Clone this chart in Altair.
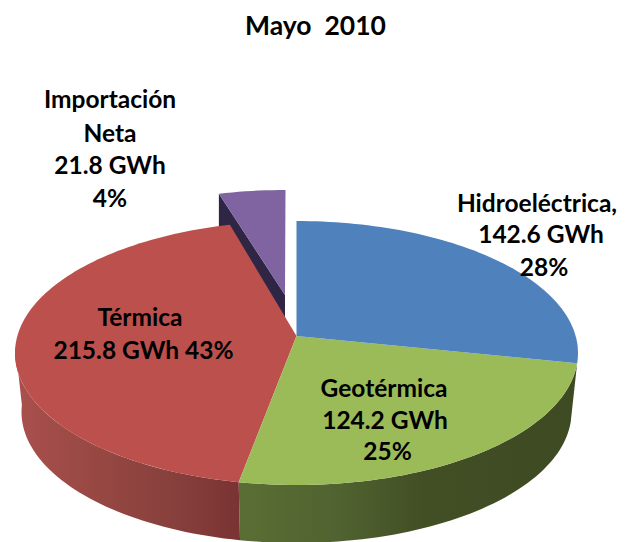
import math
import altair as alt
import pandas as pd

categories = ["Hidroeléctrica", "Geotérmica", "Térmica", "Importación Neta"]
gwh = [142.6, 124.2, 215.8, 21.8]
top_colors = ["#4F81BD", "#9BBB59", "#BC504D", "#8064A2"]

title_text = ["Mayo\u00a0\u00a02010"]
label_lines = ["Importación", "Neta", "21.8 GWh", "4%",
               "Hidroeléctrica,", "142.6 GWh", "28%",
               "Térmica", "215.8 GWh 43%",
               "Geotérmica", "124.2 GWh", "25%"]
label_x = [110, 110, 110, 110, 537, 541, 544, 140, 143.5, 384, 385, 387.5]
label_y = [108, 142, 174, 207, 212, 243, 276, 326, 359, 397, 429, 460]

# pie geometry in picture units (the x and y scales turn them into pixels)
CX, CY, RX, RY = 296.5, 353.0, 281.5, 132.0
APEX_Y = 336.0
BX, BY, BRX, BRY = 296.5, 412.0, 275.0, 131.0
P = (APEX_Y - CY) / RY
EXPLODE = (-11.0, -31.0)
PURPLE_APEX = (285.0, 295.0)
STEP = 1.5


def rim(phi_deg):
    """Share angle (clockwise from the top) to unit ellipse coordinates under the 3-D tilt."""
    a = math.radians(phi_deg)
    u, v = math.sin(a), -math.cos(a)
    d = 1 + P * v
    return u * math.sqrt(1 - P * P) / d, (v + P) / d


def arc_angles(a0, a1):
    n = max(2, int(abs(a1 - a0) / STEP))
    return [a0 + (a1 - a0) * i / n for i in range(n + 1)]


def frame(points):
    return pd.DataFrame({"x": [p[0] for p in points], "y": [p[1] for p in points],
                         "i": list(range(len(points)))})


X = alt.X("x:Q", axis=None, scale=alt.Scale(domain=[8, 618], nice=False, zero=False))
Y = alt.Y("y:Q", axis=None, scale=alt.Scale(domain=[542, 8], nice=False, zero=False))


def poly(points, fill):
    return alt.Chart(frame(points)).mark_line(
        interpolate="linear-closed", fill=fill, stroke=None, strokeWidth=0, clip=False
    ).encode(x=X, y=Y, order=alt.Order("i:Q"))


def grad(stops):
    return alt.Gradient(gradient="linear", x1=0, x2=1, y1=0, y2=0,
                        stops=[alt.GradientStop(offset=o, color=c) for o, c in stops])


total = sum(gwh)
cum = [0.0]
for v in gwh:
    cum.append(cum[-1] + v / total * 360)


def top_pts(a0, a1, dx=0.0, dy=0.0):
    pts = []
    for a in arc_angles(a0, a1):
        u, v = rim(a)
        pts.append((CX + RX * u + dx, CY + RY * v + dy))
    return pts


def wall_pts(a0, a1):
    top = []
    bot = []
    for a in arc_angles(a0, a1):
        u, v = rim(a)
        top.append((CX + RX * u, CY + RY * v))
        bot.append((BX + BRX * u, BY + BRY * v))
    return top + bot[::-1]


layers = []
left_extreme = 270 - math.degrees(math.asin(-P))
layers.append(poly(wall_pts(cum[1], cum[2]),
                   grad([(0, "#5A6E34"), (0.3, "#506230"), (0.55, "#424E24"), (1, "#3E4A22")])))
layers.append(poly(wall_pts(cum[2], left_extreme + 3),
                   grad([(0, "#A9504D"), (0.35, "#984843"), (0.7, "#87403C"), (1, "#7A3333")])))

# exploded slice
pa0, pa1 = cum[3], cum[4]
p_top = top_pts(pa0, pa1, *EXPLODE)
p_first = p_top[0]
layers.append(poly([p_first, PURPLE_APEX, (PURPLE_APEX[0], PURPLE_APEX[1] + 24), (p_first[0], p_first[1] + 34)], "#2F2545"))
layers.append(poly(p_top + [PURPLE_APEX], top_colors[3]))

# top faces
apex = (CX, APEX_Y)
for k in [2, 1, 0]:
    layers.append(poly(top_pts(cum[k], cum[k + 1]) + [apex], top_colors[k]))

labels = pd.DataFrame({"t": label_lines, "x": label_x, "y": label_y})
layers.append(alt.Chart(labels).mark_text(font="Lato", fontWeight="bold", fontSize=24.5, color="#000000",
                                          align="center", baseline="alphabetic").encode(x=X, y=Y, text="t:N"))
title_df = pd.DataFrame({"t": title_text, "x": [315.5], "y": [35]})
layers.append(alt.Chart(title_df).mark_text(font="Lato", fontWeight="bold", fontSize=26.5, color="#000000",
                                            align="center", baseline="alphabetic").encode(x=X, y=Y, text="t:N"))

chart = alt.layer(*layers).properties(
    width=610, height=534, padding=0, background="#FFFFFF", autosize=alt.AutoSizeParams(type="none")
).configure_view(stroke=None)

chart.save("out.html", embed_options={"renderer": "svg", "actions": False})
